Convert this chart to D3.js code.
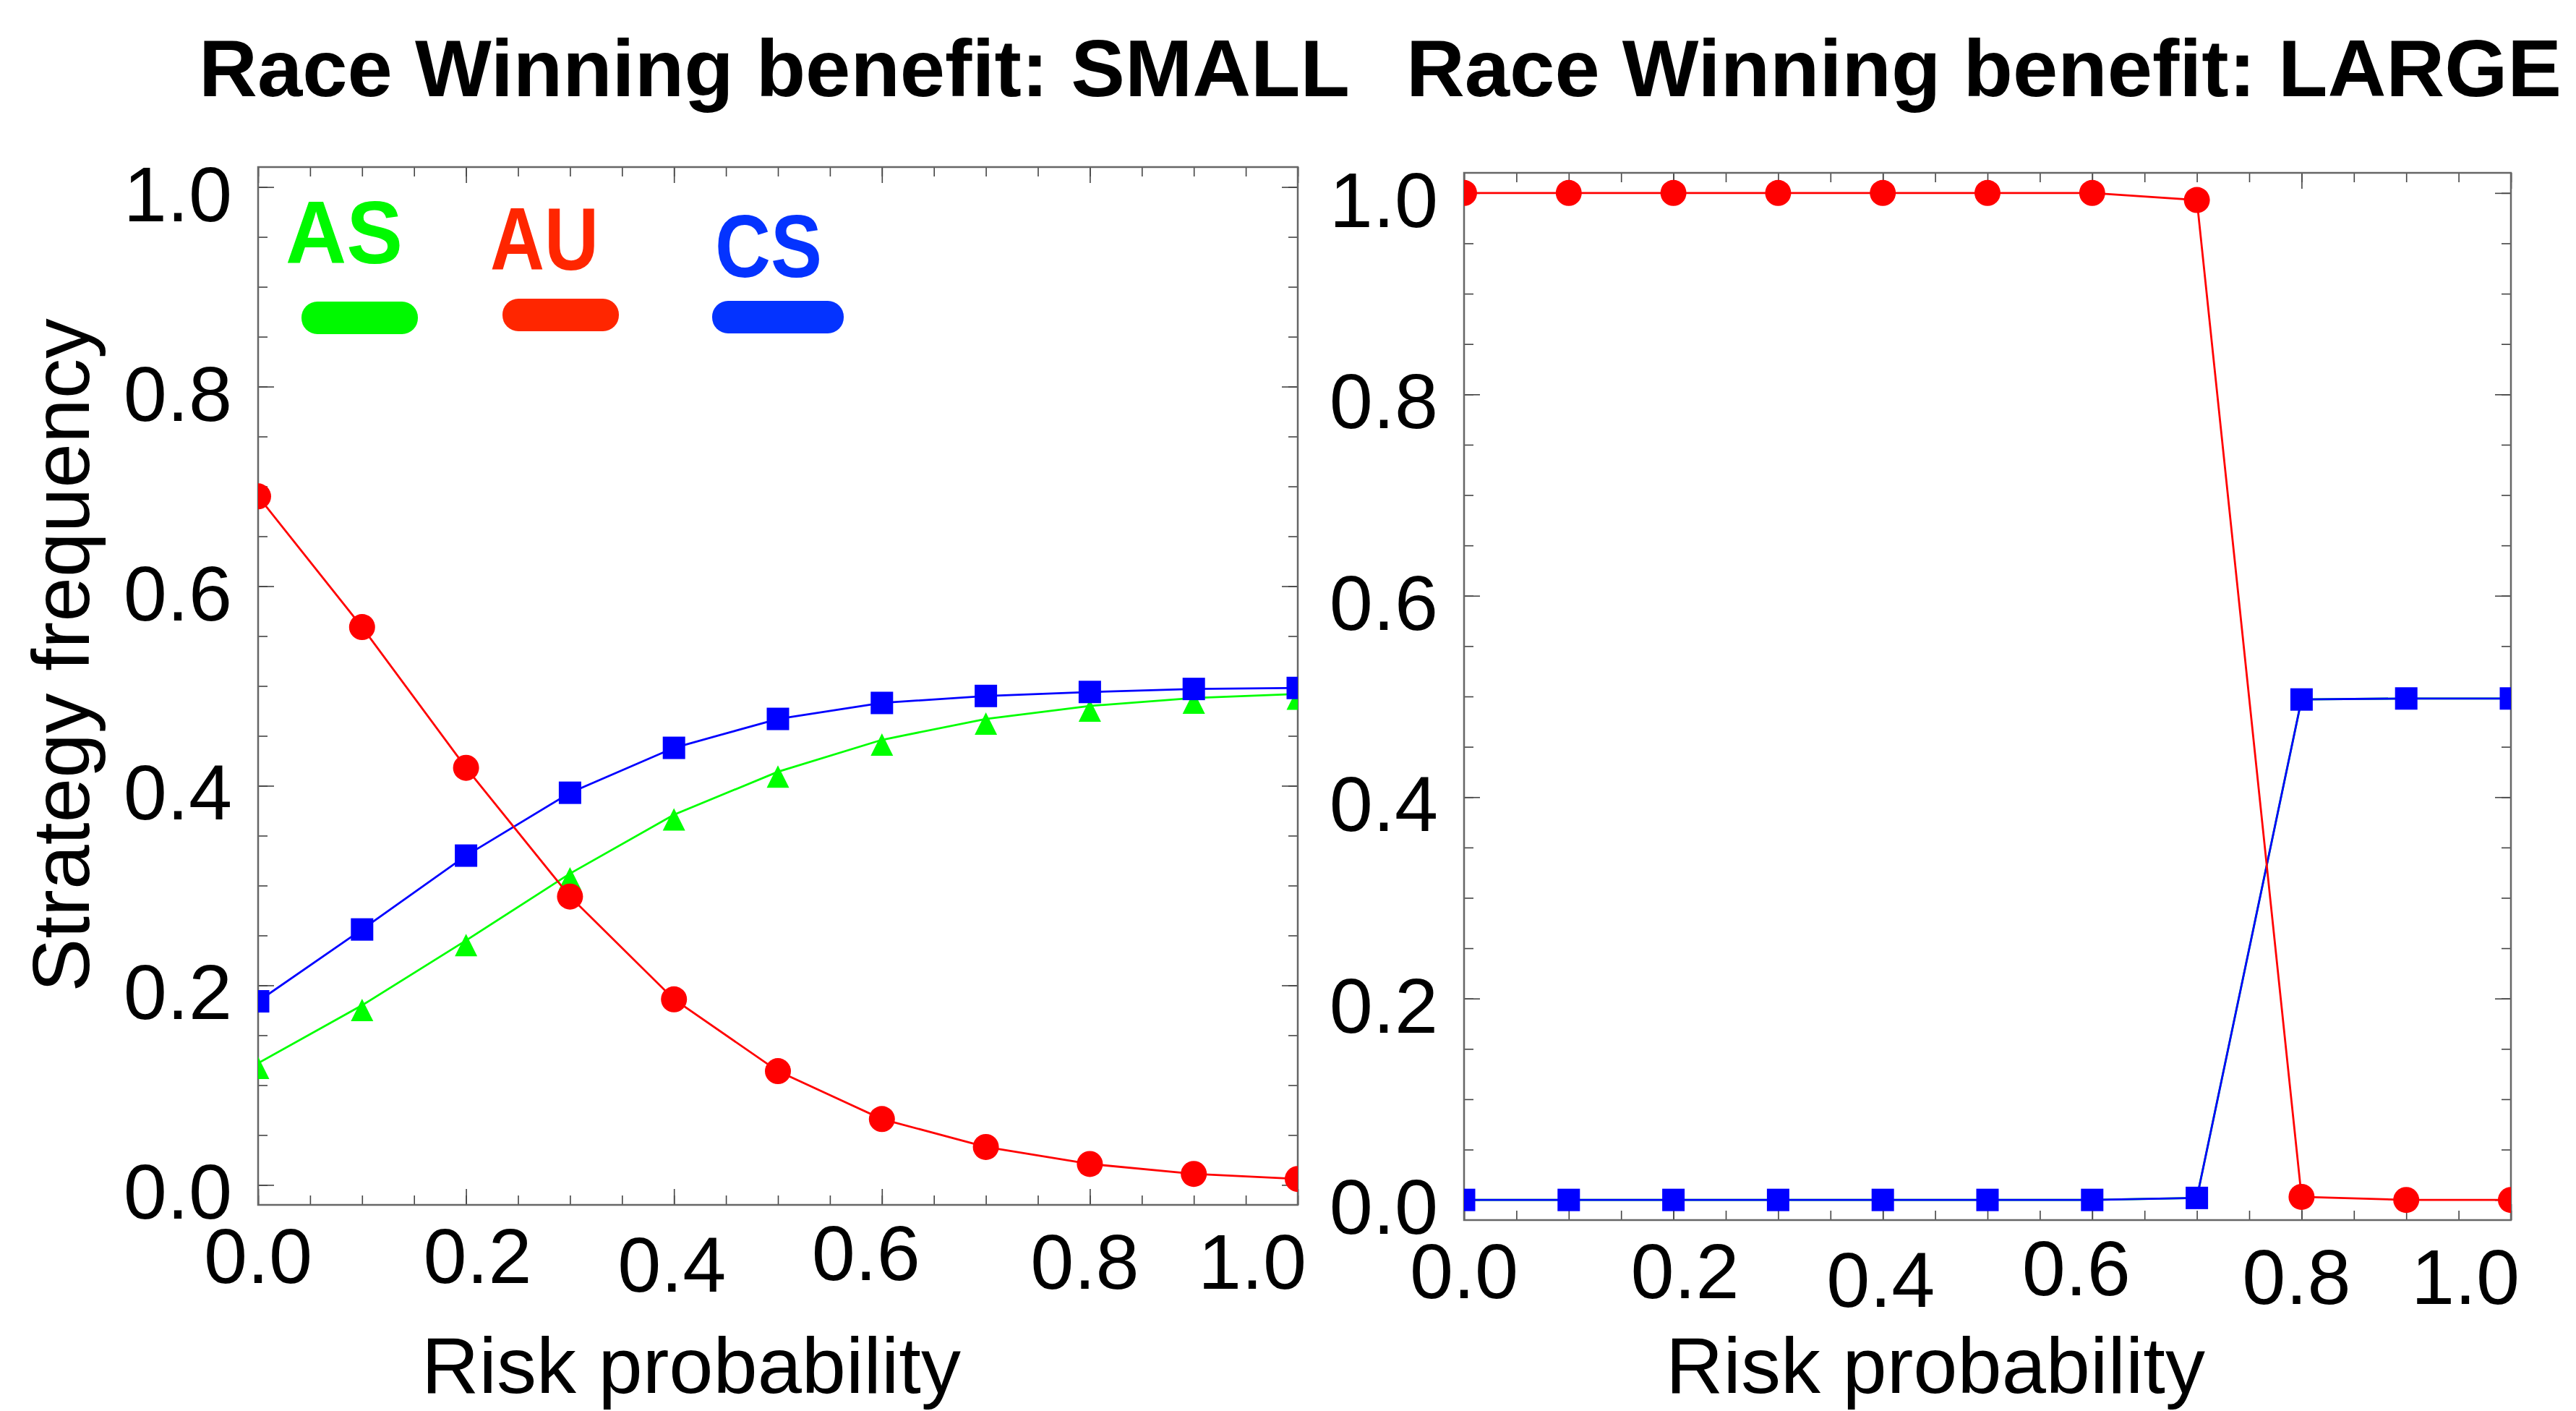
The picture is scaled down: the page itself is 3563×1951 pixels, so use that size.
<!DOCTYPE html>
<html>
<head>
<meta charset="utf-8">
<script src="https://cdn.jsdelivr.net/npm/d3@7"></script>
<style>
  body { margin: 0; background: #fff; }
  text { font-family: "Liberation Sans", Arial, Helvetica, sans-serif; }
</style>
</head>
<body>
<div id="chart"></div>
<script>
// risk probability on the x axis
const riskProb = [0.0, 0.1, 0.2, 0.3, 0.4, 0.5, 0.6, 0.7, 0.8, 0.9, 1.0];

// race winning benefit: SMALL
const smallAS = [0.122, 0.180, 0.245, 0.312, 0.371, 0.414, 0.446, 0.467, 0.480, 0.488, 0.492];
const smallAU = [0.690, 0.559, 0.418, 0.289, 0.186, 0.114, 0.066, 0.038, 0.021, 0.011, 0.006];
const smallCS = [0.184, 0.256, 0.330, 0.393, 0.438, 0.467, 0.483, 0.490, 0.494, 0.497, 0.498];

// race winning benefit: LARGE
const largeAS = [0, 0, 0, 0, 0, 0, 0, 0.002, 0.497, 0.498, 0.498];
const largeAU = [1.0, 1.0, 1.0, 1.0, 1.0, 1.0, 1.0, 0.993, 0.003, 0.0, 0.0];
const largeCS = [0, 0, 0, 0, 0, 0, 0, 0.002, 0.497, 0.498, 0.498];

const tickValues = [0.0, 0.2, 0.4, 0.6, 0.8, 1.0];
const tickLabels = ["0.0", "0.2", "0.4", "0.6", "0.8", "1.0"];
const legendLabels = ["AS", "AU", "CS"];

const W = 3563, H = 1951;
const font = 108;
const lineColor = { AS: "#00ff00", AU: "#ff0000", CS: "#0000ff" };
const legendColor = { AS: "#00f900", AU: "#ff2600", CS: "#0433ff" };
// hand placed tick labels in the original
const xLabelDx = [0, 16, -3, -22, -7, -63];
const xLabelDy = [0, 0, 12, -4, 8, 8];

const panels = [
  { title: "Race Winning benefit: SMALL", AS: smallAS, AU: smallAU, CS: smallCS,
    left: 357, right: 1795, top: 231, bottom: 1666, xTitleShift: -120,
    yTitle: true, legend: true, asMarkers: true },
  { title: "Race Winning benefit: LARGE", AS: largeAS, AU: largeAU, CS: largeCS,
    left: 2025, right: 3473, top: 239, bottom: 1687, xTitleShift: -72,
    yTitle: false, legend: false, asMarkers: false },
];

const svg = d3.select("#chart").append("svg")
  .attr("width", W).attr("height", H);
svg.append("rect").attr("width", W).attr("height", H).attr("fill", "#fff");

const minor = d3.range(0, 1.0001, 0.05);

panels.forEach((p, pi) => {
  const x = d3.scaleLinear([0, 1], [p.left, p.right]);
  const y = d3.scaleLinear([-0.02, 1.02], [p.bottom, p.top]);
  const g = svg.append("g");

  const clipId = "clip" + pi;
  svg.append("clipPath").attr("id", clipId)
    .append("rect")
    .attr("x", p.left).attr("y", p.top)
    .attr("width", p.right - p.left).attr("height", p.bottom - p.top);

  // inward ticks on all four sides
  const tickAxes = [
    [d3.axisRight(y), `translate(${p.left},0)`],
    [d3.axisLeft(y), `translate(${p.right},0)`],
    [d3.axisTop(x), `translate(0,${p.bottom})`],
    [d3.axisBottom(x), `translate(0,${p.top})`],
  ];
  tickAxes.forEach(([ax, tr]) => {
    [[minor, 13], [tickValues, 22]].forEach(([vals, len]) => {
      const a = g.append("g").attr("transform", tr)
        .call(ax.tickValues(vals).tickSize(len).tickFormat(""));
      a.select(".domain").remove();
      a.selectAll("line").attr("stroke", "#444").attr("stroke-width", 1.6);
    });
  });

  g.append("rect")
    .attr("x", p.left).attr("y", p.top)
    .attr("width", p.right - p.left).attr("height", p.bottom - p.top)
    .attr("fill", "none").attr("stroke", "#666").attr("stroke-width", 2.5);

  // tick labels
  g.selectAll(".ylab").data(tickValues).join("text")
    .attr("x", p.left - 36)
    .attr("y", (d) => y(d) + 47)
    .attr("text-anchor", "end")
    .attr("font-size", font)
    .text((d, i) => tickLabels[i]);

  g.selectAll(".xlab").data(tickValues).join("text")
    .attr("x", (d, i) => x(d) + xLabelDx[i])
    .attr("y", (d, i) => p.bottom + 108 + xLabelDy[i])
    .attr("text-anchor", "middle")
    .attr("font-size", font)
    .text((d, i) => tickLabels[i]);

  g.append("text")
    .attr("x", (p.left + p.right) / 2 + p.xTitleShift)
    .attr("y", 1926)
    .attr("text-anchor", "middle")
    .attr("font-size", 110)
    .text("Risk probability");

  g.append("text")
    .attr("x", (p.left + p.right) / 2 - 5)
    .attr("y", 133)
    .attr("text-anchor", "middle")
    .attr("font-size", 112)
    .attr("font-weight", "bold")
    .text(p.title);

  if (p.yTitle) {
    g.append("text")
      .attr("transform", `translate(123, 906) rotate(-90)`)
      .attr("text-anchor", "middle")
      .attr("font-size", 111)
      .text("Strategy frequency");
  }

  // series
  const plot = g.append("g").attr("clip-path", `url(#${clipId})`);
  const line = d3.line().x((d) => x(d[0])).y((d) => y(d[1]));
  const series = [
    { key: "AS", vals: p.AS, shape: "tri", markers: p.asMarkers },
    { key: "CS", vals: p.CS, shape: "square", markers: true },
    { key: "AU", vals: p.AU, shape: "circle", markers: true },
  ];
  series.forEach((s) => {
    const pts = riskProb.map((r, i) => [r, s.vals[i]]);
    plot.append("path")
      .attr("d", line(pts))
      .attr("fill", "none")
      .attr("stroke", lineColor[s.key])
      .attr("stroke-width", 2.8);
    if (!s.markers) return;
    const m = plot.append("g").attr("fill", lineColor[s.key]);
    if (s.shape === "circle") {
      m.selectAll("circle").data(pts).join("circle")
        .attr("cx", (d) => x(d[0])).attr("cy", (d) => y(d[1])).attr("r", 18);
    } else if (s.shape === "square") {
      m.selectAll("rect").data(pts).join("rect")
        .attr("x", (d) => x(d[0]) - 15.5).attr("y", (d) => y(d[1]) - 15.5)
        .attr("width", 31).attr("height", 31);
    } else {
      m.selectAll("path").data(pts).join("path")
        .attr("transform", (d) => `translate(${x(d[0])},${y(d[1])})`)
        .attr("d", "M0,-9L15.5,22L-15.5,22Z");
    }
  });

  if (p.legend) {
    const legendPos = [
      { tx: 38, ty: 133, w: 162, px: 60, py: 186, pw: 161 },
      { tx: 321, ty: 142, w: 150, px: 338, py: 182, pw: 161 },
      { tx: 632, ty: 152, w: 148, px: 628, py: 185, pw: 182 },
    ];
    legendLabels.forEach((lab, i) => {
      const lp = legendPos[i];
      g.append("text")
        .attr("x", p.left + lp.tx).attr("y", p.top + lp.ty)
        .attr("font-size", 122).attr("font-weight", "bold")
        .attr("textLength", lp.w).attr("lengthAdjust", "spacingAndGlyphs")
        .attr("fill", legendColor[lab])
        .text(lab);
      g.append("rect")
        .attr("x", p.left + lp.px).attr("y", p.top + lp.py)
        .attr("width", lp.pw).attr("height", 45)
        .attr("rx", 22).attr("ry", 22)
        .attr("fill", legendColor[lab]);
    });
  }
});
</script>
</body>
</html>
